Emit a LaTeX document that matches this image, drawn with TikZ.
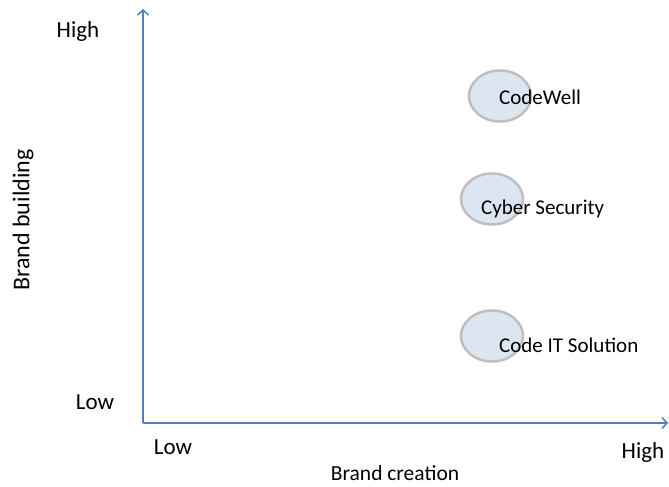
\documentclass[tikz,border=0pt]{standalone}
\usepackage{fontspec}
\setmainfont{Carlito}
\usepackage{tikz}
\usetikzlibrary{arrows.meta,positioning,shapes.geometric}
\definecolor{axisblue}{RGB}{79,129,189}
\definecolor{bubblefill}{RGB}{220,230,242}
\definecolor{bubbleline}{RGB}{191,191,191}

\begin{document}
\begin{tikzpicture}[x=1pt,y=-1pt,
    font=\fontsize{21}{25}\selectfont,
    axis/.style={axisblue, line width=1.5pt, -{Straight Barb[length=5pt,width=11pt]}},
    level/.style={font=\fontsize{23}{27}\selectfont},
    bubble/.style={ellipse, draw=bubbleline, fill=bubblefill, line width=2.5pt,
      minimum width=62pt, minimum height=51pt, inner sep=0pt}]
  \useasboundingbox (0,0) rectangle (669,487);
  \coordinate (O) at (143,423);
  \coordinate (ytop) at (143,9);
  \coordinate (xend) at (668,423);
  \draw[axis] (O) -- (ytop);
  \draw[axis] (O) -- (xend);
  % bubbles
  \node (b1) [bubble] at (500,96) {};
  \node (b2) [bubble] at (492,199) {};
  \node (b3) [bubble] at (492,336) {};
  \node (l1) [anchor=west, inner sep=0pt] at (499,97) {CodeWell};
  \node (l2) [anchor=west, inner sep=0pt] at (481,209) {Cyber Security};
  \node (l3) [anchor=west, inner sep=0pt] at (499,345) {Code IT Solution};
  % axis labels
  \node (yhigh) [level] at (78,31) {High};
  \node (ylow) [level] at (95,402) {Low};
  \node (xlow) [level] at (173,447) {Low};
  \node (xhigh) [level] at (643,452) {High};
  \node (xlab) [font=\fontsize{21.5}{25}\selectfont] at (395,473) {Brand creation};
  \node (ylab) [rotate=90, font=\fontsize{24}{28}\selectfont] at (23,220) {Brand building};
\end{tikzpicture}
\end{document}
